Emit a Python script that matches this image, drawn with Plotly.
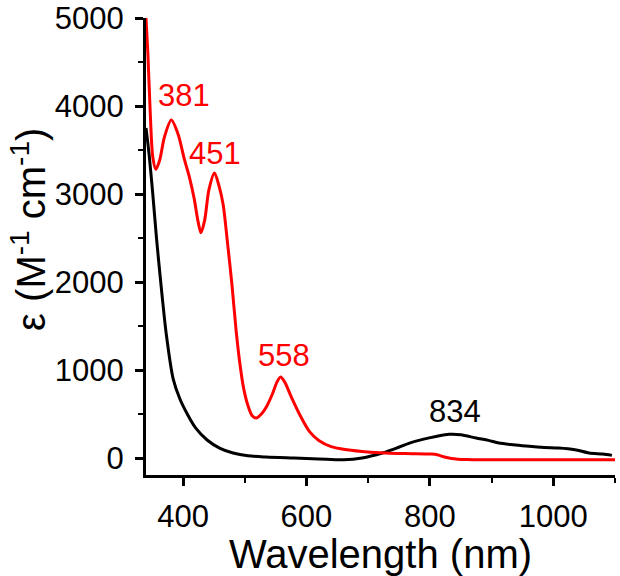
import plotly.graph_objects as go

# Red spectrum
red_x = [340, 343, 347, 351, 356, 362, 370, 381, 392, 402, 410, 418, 424, 429, 435, 442, 451, 458, 465, 472, 479, 486, 492, 498, 505, 512, 519, 527, 535, 545, 552, 558, 565, 575, 590, 605, 620, 640, 660, 690, 720, 760, 800, 812, 822, 835, 860, 900, 1000, 1100]
red_y = [5000, 4600, 3900, 3420, 3280, 3380, 3650, 3840, 3680, 3400, 3200, 2950, 2700, 2560, 2700, 3050, 3240, 3100, 2880, 2450, 1990, 1450, 1080, 800, 600, 480, 455, 500, 580, 730, 860, 920, 860, 700, 480, 300, 200, 130, 100, 75, 60, 50, 45, 38, 15, -5, -18, -20, -20, -20]

# Black spectrum
blk_x = [340, 345, 351, 357, 364, 373, 384, 395, 406, 420, 439, 460, 481, 505, 535, 580, 620, 660, 690, 723, 745, 767, 790, 810, 831, 850, 875, 895, 912, 935, 956, 985, 1009, 1035, 1058, 1080, 1095]
blk_y = [3750, 3450, 3000, 2500, 1990, 1400, 900, 670, 511, 345, 205, 110, 57, 25, 11, 0, -10, -20, 0, 57, 110, 170, 215, 245, 270, 265, 227, 200, 170, 150, 136, 120, 114, 95, 57, 45, 30]

# Peak labels
lab_text = ["381", "451", "558", "834"]
lab_x = [401, 452, 563, 841]
lab_y = [4114, 3466, 1170, 523]
lab_col = ["#ff0000", "#ff0000", "#ff0000", "#000000"]

FONT = "Arial, Liberation Sans, sans-serif"

fig = go.Figure()
fig.add_trace(go.Scatter(x=blk_x, y=blk_y, mode="lines", line=dict(color="black", width=3, shape="spline", smoothing=0.8), showlegend=False))
fig.add_trace(go.Scatter(x=red_x, y=red_y, mode="lines", line=dict(color="#ff0000", width=3, shape="spline", smoothing=0.8), showlegend=False))

for t, x, y, c in zip(lab_text, lab_x, lab_y, lab_col):
    fig.add_annotation(x=x, y=y, text=t, showarrow=False, font=dict(family=FONT, size=31, color=c))

# y-axis title as a rotated annotation for exact placement
fig.add_annotation(
    xref="paper", yref="paper", x=-0.25, y=0.538,
    xanchor="center", yanchor="middle", textangle=-90, showarrow=False,
    text="ε (M<sup>-1</sup> cm<sup>-1</sup>)",
    font=dict(family=FONT, size=40, color="black"),
)

fig.update_layout(
    width=620, height=576,
    margin=dict(l=146, r=5, t=18, b=101),
    plot_bgcolor="white", paper_bgcolor="white",
    font=dict(family=FONT, color="black"),
)
fig.update_xaxes(
    range=[340, 1100], showgrid=False, zeroline=False, automargin=False,
    showline=True, linecolor="black", linewidth=3,
    ticks="outside", ticklen=8, tickwidth=3, tickcolor="black",
    dtick=200, tick0=0, tickfont=dict(size=31, family=FONT), ticklabelstandoff=4,
    ticklabeloverflow="allow",
    minor=dict(ticks="outside", ticklen=5, tickwidth=2, tickcolor="black", dtick=100, tick0=0),
    title=dict(text="Wavelength (nm)", font=dict(size=40, family=FONT), standoff=2),
)
fig.update_yaxes(
    range=[-193, 5000], showgrid=False, zeroline=False, automargin=False,
    showline=True, linecolor="black", linewidth=3,
    ticks="outside", ticklen=8, tickwidth=3, tickcolor="black",
    dtick=1000, tick0=0, tickfont=dict(size=31, family=FONT), ticklabelstandoff=5,
    ticklabeloverflow="allow",
    minor=dict(ticks="outside", ticklen=5, tickwidth=2, tickcolor="black", dtick=500, tick0=0),
)

# remove the browser's default 8px body margin so the figure fills the window
fig.write_html("out.html", config={"displayModeBar": False},
               post_script="document.body.style.margin='0';")
